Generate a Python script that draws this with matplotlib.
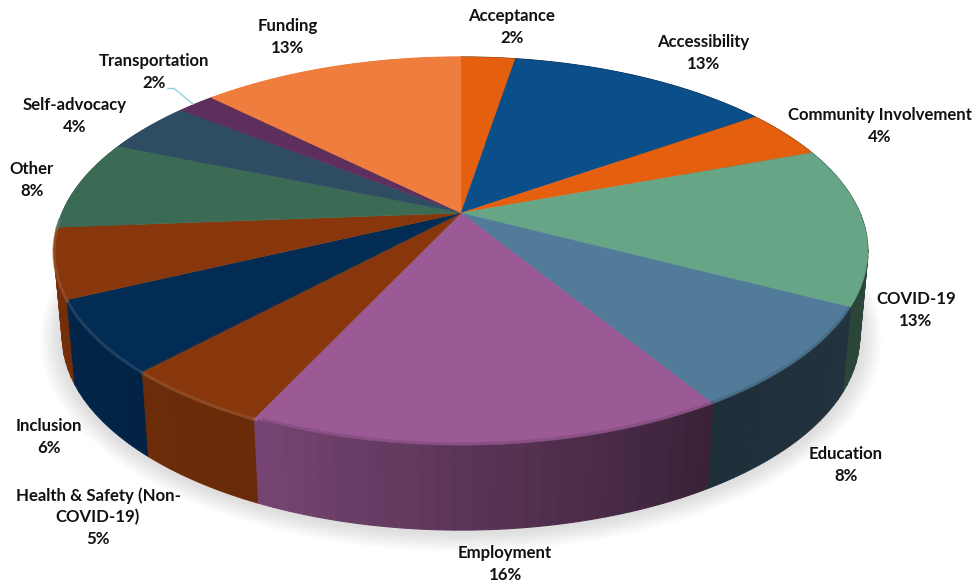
import numpy as np
import matplotlib
matplotlib.use("Agg")
import matplotlib.pyplot as plt
from matplotlib.colors import to_rgb

plt.rcParams['font.family'] = ['Lato', 'DejaVu Sans']

# clockwise from 12 o'clock. one slice has no label in the original
names = ['Acceptance', 'Accessibility', 'Community Involvement', 'COVID-19', 'Education',
         'Employment', 'Health & Safety (Non-\nCOVID-19)', 'Inclusion', '', 'Other',
         'Self-advocacy', 'Transportation', 'Funding']
shown_pct = [2, 13, 4, 13, 8, 16, 5, 6, 6, 8, 4, 2, 13]
# shares as drawn
shares = [2.6, 12.7, 4.1, 13.2, 8.6, 15.8, 5.0, 6.0, 5.8, 7.5, 4.3, 1.8, 12.6]
colors = ['#E4600F', '#0A4F8A', '#E4600F', '#67A587', '#517B98', '#9B5A96', '#87370B',
          '#032C55', '#87370B', '#3C6B55', '#2F4D62', '#5E2F5C', '#EE7D3E']
label_xy = [(512, 27), (703, 53), (880, 126), (916, 310), (846, 465), (505, 564),
            (98, 517), (49, 437), None, (32, 180), (75, 116), (154, 72), (288, 37)]

# perspective of the disc, in pixels
cx, cy = 461, 213
A, B, k = 399.0, 186.6, 0.196
depth = 85
shrink = 0.98


def top_pt(theta):
    w = 1 + k * np.cos(theta)
    return cx + A * np.sin(theta) / w, cy - B * np.cos(theta) / w


def bottom_pt(theta):
    x, y = top_pt(theta)
    return cx + shrink * (x - cx), y + depth


def side_shade(deg):
    return np.interp(deg, [60, 115, 150, 207, 225, 250, 270, 300],
                     [0.42, 0.42, 0.38, 0.78, 0.80, 0.85, 1.0, 1.0])


fig = plt.figure(figsize=(9.78, 5.84), dpi=100)
ax = fig.add_axes([0, 0, 1, 1])
ax.set_xlim(0, 978)
ax.set_ylim(584, 0)
ax.axis('off')

# soft shadow under the pie
circle = np.linspace(0, 2 * np.pi, 300)
bx, by = bottom_pt(circle)
by_mid = by.mean()
for grow in np.linspace(22, 2, 12):
    sx = cx + (bx - cx) * (1 + grow / 400)
    sy = by_mid + (by - by_mid) * (1 + grow / 230) + 1
    ax.fill(sx, sy, color='#808080', alpha=0.02, lw=0, zorder=1)

edges = np.radians(np.concatenate([[0], np.cumsum(shares)]) * 3.6)

# side wall, drawn in narrow strips so no seams show
strips = []
for i, col in enumerate(colors):
    a0, a1 = edges[i], edges[i + 1]
    n = max(int(np.degrees(a1 - a0) / 2), 1)
    steps = np.linspace(a0, a1, n + 1)
    for s0, s1 in zip(steps[:-1], steps[1:]):
        strips.append((s0, s1, col))
strips.sort(key=lambda s: -np.cos((s[0] + s[1]) / 2))
for s0, s1, col in strips:
    t = np.linspace(s0, s1, 6)
    xt, yt = top_pt(t)
    xb, yb = bottom_pt(t)
    shade = side_shade(np.degrees((s0 + s1) / 2))
    rgb = np.array(to_rgb(col)) * shade
    ax.fill(np.concatenate([xt, xb[::-1]]), np.concatenate([yt, yb[::-1]]),
            color=rgb, ec=rgb, lw=0.8, zorder=2)

# top face
for i, col in enumerate(colors):
    t = np.linspace(edges[i], edges[i + 1], 60)
    xt, yt = top_pt(t)
    ax.fill(np.concatenate([[cx], xt]), np.concatenate([[cy], yt]),
            color=col, ec=col, lw=0.3, zorder=3)

# bevel along the front rim: light on the left, soft and dark on the right
for i, col in enumerate(colors):
    a0, a1 = np.degrees(edges[i]), np.degrees(edges[i + 1])
    lo, hi = max(a0, 205), min(a1, 268)
    if hi > lo:
        xr, yr = top_pt(np.radians(np.linspace(lo, hi, 30)))
        light = 0.85 * np.array(to_rgb(col)) + 0.15
        ax.plot(xr, yr + 1, color=light, lw=2.2, alpha=0.7, zorder=4)
    lo, hi = max(a0, 118), min(a1, 204)
    if hi > lo:
        xr, yr = top_pt(np.radians(np.linspace(lo, hi, 30)))
        dark = np.array(to_rgb(col)) * 0.7
        ax.plot(xr, yr - 1, color=dark, lw=2.5, alpha=0.35, zorder=4)

# labels
for name, pct, xy in zip(names, shown_pct, label_xy):
    if xy is None:
        continue
    ax.text(xy[0], xy[1], f'{name}\n{pct}%', ha='center', va='center', fontsize=12.1,
            fontweight='bold', color='#111111', linespacing=1.42, zorder=6)

# leader line for Transportation
ax.plot([168, 174, 193], [88.5, 88.5, 104], color='#8FD3D8', lw=1, zorder=5)

fig.savefig('out.png', dpi=100, facecolor='white')
